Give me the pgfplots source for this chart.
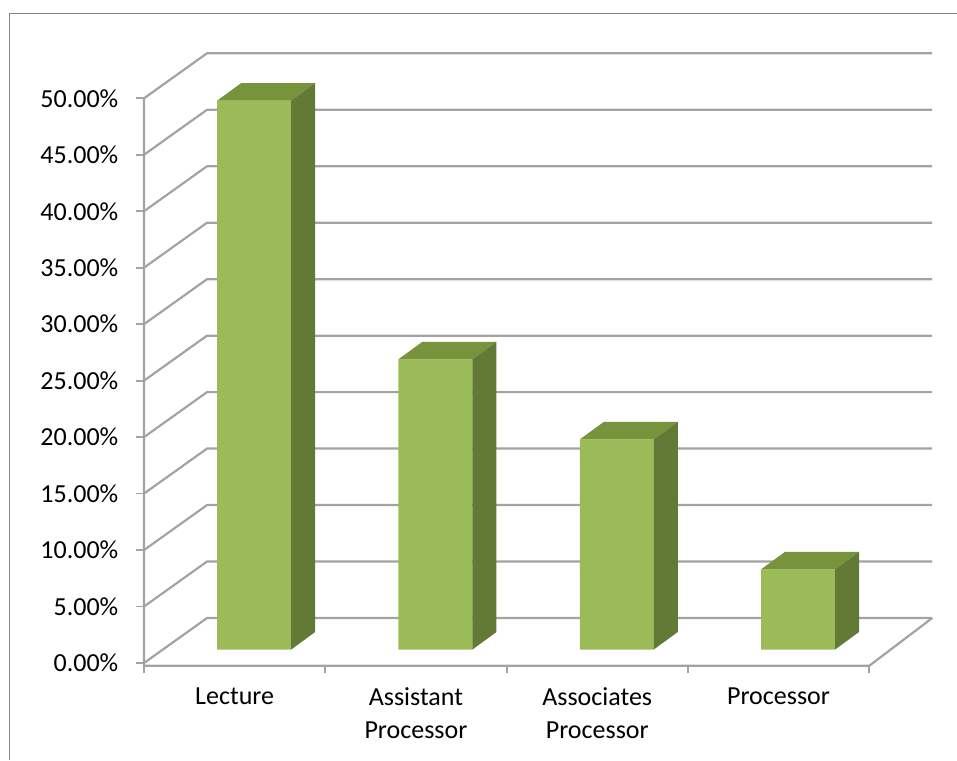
\documentclass[border=0pt]{standalone}
\usepackage{fontspec}
\setmainfont{Carlito}
\usepackage{pgfplots}
\usepackage{pgfplotstable}
\pgfplotsset{compat=1.18}
\definecolor{barfront}{HTML}{9BBB59}
\definecolor{bartop}{HTML}{77933C}
\definecolor{barside}{HTML}{637A36}
\definecolor{gridc}{HTML}{A3A3A3}
\definecolor{framec}{HTML}{868686}

\pgfplotstableread{
x v
0.5 48.6
1.5 25.7
2.5 18.6
3.5 7.1
}\datatable

\pgfdeclareplotmark{box3d}{%
  \pgfmathsetlengthmacro\hh{\val*11.294pt}%
  \pgfsetfillcolor{bartop}%
  \pgfpathmoveto{\pgfpoint{-37pt}{0pt}}%
  \pgfpathlineto{\pgfpoint{37pt}{0pt}}%
  \pgfpathlineto{\pgfpoint{61pt}{17.5pt}}%
  \pgfpathlineto{\pgfpoint{-13pt}{17.5pt}}%
  \pgfpathclose
  \pgfusepath{fill}%
  \pgfsetfillcolor{barside}%
  \pgfpathmoveto{\pgfpoint{37pt}{0pt}}%
  \pgfpathlineto{\pgfpoint{61pt}{17.5pt}}%
  \pgfpathlineto{\pgfpoint{61pt}{17.5pt-\hh}}%
  \pgfpathlineto{\pgfpoint{37pt}{-\hh}}%
  \pgfpathclose
  \pgfusepath{fill}%
}

\begin{document}
\begin{tikzpicture}
\path[use as bounding box] (0pt,0pt) rectangle (957pt,-760pt);
\draw[framec, line width=1pt] (9pt,-760pt) -- (9pt,-14pt) -- (957pt,-14pt);
\begin{axis}[
  at={(144pt,-663pt)}, anchor=origin,
  x=181.3pt, y=11.294pt,
  xmin=0, xmax=4.5, ymin=-0.25, ymax=56,
  clip=false,
  axis line style={draw=none},
  tick pos=left, tick align=outside,
  major tick length=7.5pt,
  tick style={gridc, line width=1.8pt},
  ytick={0,5,...,50},
  xtick={0,1,2,3,4},
  x tick label as interval,
  xticklabels={Lecture,{Assistant\\Processor},{Associates\\Processor},Processor},
  /pgf/number format/assume math mode=true,
  yticklabel={\pgfmathprintnumber[fixed,fixed zerofill,precision=2]{\tick}\%},
  ticklabel style={font=\fontsize{26}{33}\selectfont, text=black},
  xticklabel style={align=center, anchor=north, inner sep=0pt, yshift=-14pt},
  yticklabel style={anchor=east, inner sep=0pt, xshift=-18pt},
]
\pgfplotsinvokeforeach{0,5,...,50}{
  \draw[gridc, line width=2.2pt] (axis cs:0,#1) -- ++(63pt,45pt) -- ++(725.2pt,0pt);
}
\draw[gridc, line width=2.2pt] (axis cs:0,50) -- (axis cs:0,-0.25) -- (axis cs:4,-0.25) -- ++(63pt,47.8pt);

\addplot[ybar, bar width=74pt, bar shift=0pt, fill=barfront, draw=none,
  xshift=19.5pt, yshift=13.5pt] table[x=x,y=v]{\datatable};
\addplot[only marks, mark=box3d, xshift=19.5pt, yshift=13.5pt,
  visualization depends on={rawy \as \val}] table[x=x,y=v]{\datatable};
\end{axis}
\end{tikzpicture}
\end{document}
